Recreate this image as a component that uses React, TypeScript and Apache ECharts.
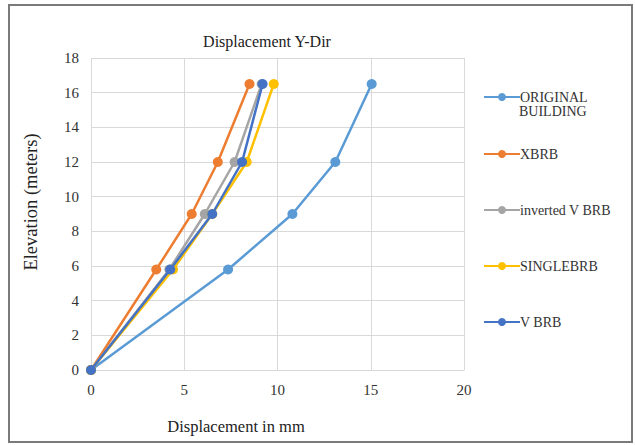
import React, { useEffect, useRef } from "react";
import * as echarts from "echarts";

const elevations = [0, 5.8, 9, 12, 16.5];
const seriesNames = ["ORIGINAL BUILDING", "XBRB", "inverted V BRB", "SINGLEBRB", "V BRB"];
const originalBuilding = [0, 7.35, 10.8, 13.1, 15.05];
const xbrb = [0, 3.5, 5.4, 6.8, 8.5];
const invertedVBrb = [0, 4.2, 6.1, 7.7, 9.15];
const singleBrb = [0, 4.4, 6.5, 8.35, 9.8];
const vBrb = [0, 4.25, 6.5, 8.1, 9.2];
const seriesValues = [originalBuilding, xbrb, invertedVBrb, singleBrb, vBrb];
const colors = ["#5B9BD5", "#ED7D31", "#A5A5A5", "#FFC000", "#4472C4"];

const SERIF = "'Liberation Serif', 'Times New Roman', serif";

export default function App() {
  const ref = useRef<HTMLDivElement>(null);
  useEffect(() => {
    const chart = echarts.init(ref.current!, null, { renderer: "svg" });
    const legendTops = [85, 142, 198, 254, 310];
    chart.setOption({
      animation: false,
      backgroundColor: "#ffffff",
      title: {
        text: "Displacement Y-Dir",
        left: 262,
        top: 28,
        textAlign: "center",
        textStyle: { fontFamily: SERIF, fontSize: 16, fontWeight: "normal", color: "#222" },
      },
      grid: { left: 91, right: 171, top: 58, bottom: 75, containLabel: false },
      xAxis: {
        type: "value",
        min: 0,
        max: 20,
        interval: 5,
        axisLine: { show: true, lineStyle: { color: "#d9d9d9" } },
        axisTick: { show: false },
        axisLabel: { fontFamily: SERIF, fontSize: 15, color: "#333", margin: 12 },
        splitLine: { show: true, lineStyle: { color: "#d9d9d9", width: 1 } },
      },
      yAxis: {
        type: "value",
        min: 0,
        max: 18,
        interval: 2,
        axisLine: { show: false },
        axisTick: { show: false },
        axisLabel: { fontFamily: SERIF, fontSize: 15, color: "#333", margin: 12 },
        splitLine: { show: true, lineStyle: { color: "#d9d9d9", width: 1 } },
      },
      legend: seriesNames.map((n, i) => ({
        data: [n],
        orient: "vertical",
        left: 478,
        top: legendTops[i],
        itemWidth: 36,
        itemHeight: 10,
        itemGap: 0,
        selectedMode: false,
        formatter: (name: string) => (name === "ORIGINAL BUILDING" ? "ORIGINAL" : name),
        textStyle: { fontFamily: SERIF, fontSize: 14, color: "#333", padding: [0, 0, 0, -5] },
      })),
      series: seriesNames.map((n, i) => ({
        name: n,
        type: "line",
        data: seriesValues[i].map((v, j) => [v, elevations[j]]),
        symbol: "circle",
        symbolSize: 10,
        lineStyle: { width: 2.5, color: colors[i] },
        itemStyle: { color: colors[i] },
        z: 2 + i,
      })),
      graphic: [
        {
          type: "rect",
          shape: { x: 9, y: 5, width: 623, height: 437 },
          style: { fill: "none", stroke: "#7a7a7a", lineWidth: 2 },
          silent: true,
          z: -1,
        },
        {
          type: "text",
          x: 519,
          y: 111,
          style: {
            text: "BUILDING",
            fontFamily: SERIF,
            fontSize: 14,
            fill: "#333",
            verticalAlign: "middle",
          },
        },
        {
          type: "text",
          x: 236,
          y: 426,
          style: {
            text: "Displacement in mm",
            fontFamily: SERIF,
            fontSize: 16.5,
            fill: "#222",
            align: "center",
            verticalAlign: "middle",
          },
        },
        {
          type: "text",
          x: 31,
          y: 202,
          rotation: Math.PI / 2,
          style: {
            text: "Elevation (meters)",
            fontFamily: SERIF,
            fontSize: 18.5,
            fill: "#222",
            align: "center",
            verticalAlign: "middle",
          },
        },
      ],
    });
    return () => chart.dispose();
  }, []);
  return (
    <div
      ref={ref}
      style={{ position: "fixed", left: 0, top: 0, width: 635, height: 445 }}
    />
  );
}
